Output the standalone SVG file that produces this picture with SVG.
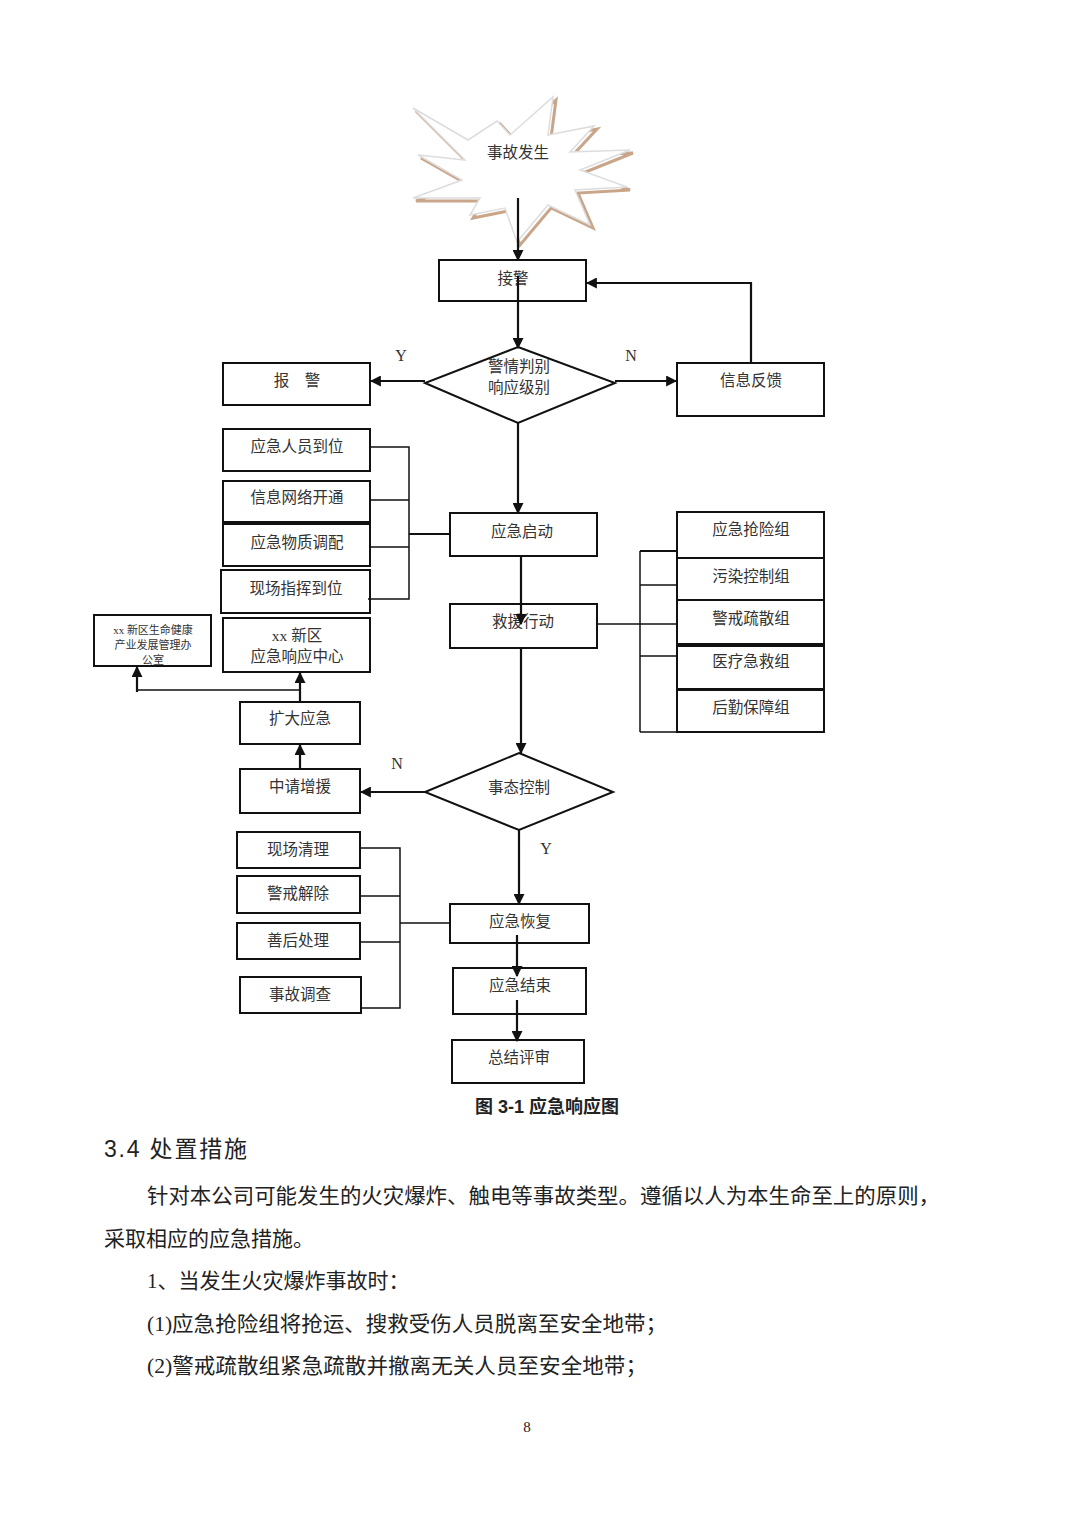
<svg xmlns="http://www.w3.org/2000/svg" width="1080" height="1526" viewBox="0 0 1080 1526">
<defs>
<style>
.box{fill:#fff;stroke:#111;stroke-width:2}
.ln{fill:none;stroke:#111;stroke-width:1.5}
.ar{fill:none;stroke:#111;stroke-width:2.2}
.t{font-family:"Liberation Serif","Noto Sans CJK SC",serif;font-size:15.5px;fill:#333;text-anchor:middle}
.yn{font-family:"Liberation Serif",serif;font-size:16px;fill:#333;text-anchor:middle}
.body{font-family:"Liberation Serif","Noto Sans CJK SC",serif;font-size:21px;fill:#222}
</style>
<marker id="ah" viewBox="0 0 10 10" refX="9" refY="5" markerWidth="5" markerHeight="5" orient="auto" markerUnits="strokeWidth">
<path d="M0,0 L10,5 L0,10 z" fill="#111"/>
</marker>
<clipPath id="clipxx"><rect x="95" y="616" width="115" height="49"/></clipPath>
</defs>
<rect width="1080" height="1526" fill="#fff"/>

<g id="star">
<polygon points="413,108 468,140 497,121 510,135 553,97 548,135 594,126 570,152 630,150 580,170 627,187 575,190 590,225 548,205 517,242 505,208 470,215 480,198 413,198 462,180 418,155 465,160" fill="none" stroke="#c9a68a" stroke-width="3" transform="translate(3,3)"/>
<polygon points="413,108 468,140 497,121 510,135 553,97 548,135 594,126 570,152 630,150 580,170 627,187 575,190 590,225 548,205 517,242 505,208 470,215 480,198 413,198 462,180 418,155 465,160" fill="#fff" stroke="#ddd" stroke-width="1.5"/>
<text class="t" x="518" y="158">事故发生</text>
</g>

<g id="n-jiejing"><rect class="box" x="439" y="260" width="147" height="41"/><text class="t" x="513" y="284">接警</text></g>
<g id="n-judge"><polygon class="box" points="518,347 615,383 518,423 425,383"/><text class="t" x="519" y="372">警情判别</text><text class="t" x="519" y="393">响应级别</text></g>
<text class="yn" x="401" y="361">Y</text>
<text class="yn" x="631" y="361">N</text>
<g id="n-baojing"><rect class="box" x="223" y="363" width="147" height="42"/><text class="t" x="297" y="386">报　警</text></g>
<g id="n-feedback"><rect class="box" x="677" y="363" width="147" height="53"/><text class="t" x="751" y="386">信息反馈</text></g>

<g id="n-a1"><rect class="box" x="223" y="429" width="147" height="42"/><text class="t" x="297" y="452">应急人员到位</text></g>
<g id="n-a2"><rect class="box" x="223" y="481" width="147" height="41"/><text class="t" x="297" y="503">信息网络开通</text></g>
<g id="n-a3"><rect class="box" x="223" y="524" width="147" height="42"/><text class="t" x="297" y="548">应急物质调配</text></g>
<g id="n-a4"><rect class="box" x="221" y="570" width="149" height="43"/><text class="t" x="296" y="594">现场指挥到位</text></g>

<g id="n-start"><rect class="box" x="450" y="513" width="147" height="43"/><text class="t" x="522" y="537">应急启动</text></g>
<g id="n-rescue"><rect class="box" x="450" y="604" width="147" height="44"/><text class="t" x="523" y="627">救援行动</text></g>

<g id="n-g1"><rect class="box" x="677" y="512" width="147" height="46"/><text class="t" x="751" y="535">应急抢险组</text></g>
<g id="n-g2"><rect class="box" x="677" y="558" width="147" height="42"/><text class="t" x="751" y="582">污染控制组</text></g>
<g id="n-g3"><rect class="box" x="677" y="600" width="147" height="44"/><text class="t" x="751" y="624">警戒疏散组</text></g>
<g id="n-g4"><rect class="box" x="677" y="646" width="147" height="43"/><text class="t" x="751" y="667">医疗急救组</text></g>
<g id="n-g5"><rect class="box" x="677" y="690" width="147" height="42"/><text class="t" x="751" y="713">后勤保障组</text></g>

<g id="n-office"><rect class="box" x="94" y="615" width="117" height="51"/>
<g clip-path="url(#clipxx)"><text class="t" x="153" y="634" style="font-size:11px">xx 新区生命健康</text><text class="t" x="153" y="649" style="font-size:11px">产业发展管理办</text><text class="t" x="153" y="664" style="font-size:11px">公室</text></g></g>
<g id="n-center"><rect class="box" x="223" y="618" width="147" height="54"/><text class="t" x="297" y="641">xx 新区</text><text class="t" x="297" y="662">应急响应中心</text></g>
<g id="n-expand"><rect class="box" x="240" y="702" width="120" height="42"/><text class="t" x="300" y="724">扩大应急</text></g>
<g id="n-request"><rect class="box" x="240" y="769" width="120" height="44"/><text class="t" x="300" y="792">中请增援</text></g>

<g id="n-control"><polygon class="box" points="519,753 613,792 519,830 425,792"/><text class="t" x="519" y="793">事态控制</text></g>
<text class="yn" x="397" y="769">N</text>
<text class="yn" x="546" y="854">Y</text>

<g id="n-b1"><rect class="box" x="237" y="832" width="123" height="36"/><text class="t" x="298" y="855">现场清理</text></g>
<g id="n-b2"><rect class="box" x="237" y="876" width="123" height="37"/><text class="t" x="298" y="899">警戒解除</text></g>
<g id="n-b3"><rect class="box" x="237" y="923" width="123" height="36"/><text class="t" x="298" y="946">善后处理</text></g>
<g id="n-b4"><rect class="box" x="240" y="977" width="121" height="36"/><text class="t" x="300" y="1000">事故调查</text></g>

<g id="n-recover"><rect class="box" x="450" y="904" width="139" height="39"/><text class="t" x="520" y="927">应急恢复</text></g>
<g id="n-end"><rect class="box" x="453" y="968" width="133" height="46"/><text class="t" x="520" y="991">应急结束</text></g>
<g id="n-review"><rect class="box" x="452" y="1040" width="132" height="43"/><text class="t" x="519" y="1063">总结评审</text></g>

<g id="connectors">
<line class="ar" x1="518" y1="198" x2="518" y2="260" marker-end="url(#ah)"/>
<line class="ar" x1="518" y1="276" x2="518" y2="348" marker-end="url(#ah)"/>
<line class="ar" x1="425" y1="381" x2="371" y2="381" marker-end="url(#ah)"/>
<line class="ar" x1="615" y1="381" x2="676" y2="381" marker-end="url(#ah)"/>
<polyline class="ar" points="751,363 751,283 587,283" marker-end="url(#ah)"/>
<line class="ar" x1="518" y1="423" x2="518" y2="513" marker-end="url(#ah)"/>
<polyline class="ln" points="370,447 409,447 409,599 368,599"/>
<line class="ln" x1="370" y1="500" x2="409" y2="500"/>
<line class="ln" x1="370" y1="547" x2="409" y2="547"/>
<line class="ar" x1="409" y1="534" x2="450" y2="534"/>
<line class="ar" x1="521" y1="556" x2="521" y2="624" marker-end="url(#ah)"/>
<line class="ar" x1="521" y1="648" x2="521" y2="753" marker-end="url(#ah)"/>
<line class="ln" x1="597" y1="624" x2="677" y2="624"/>
<line class="ln" x1="640" y1="551" x2="640" y2="732"/>
<line class="ar" x1="640" y1="551" x2="677" y2="551"/>
<line class="ln" x1="640" y1="585" x2="677" y2="585"/>
<line class="ln" x1="640" y1="656" x2="677" y2="656"/>
<line class="ln" x1="640" y1="732" x2="677" y2="732"/>
<line class="ar" x1="300" y1="702" x2="300" y2="673" marker-end="url(#ah)"/>
<polyline class="ln" points="300,690 137,690"/>
<line class="ar" x1="137" y1="692" x2="137" y2="667" marker-end="url(#ah)"/>
<line class="ar" x1="300" y1="769" x2="300" y2="745" marker-end="url(#ah)"/>
<line class="ar" x1="425" y1="792" x2="361" y2="792" marker-end="url(#ah)"/>
<line class="ar" x1="519" y1="830" x2="519" y2="904" marker-end="url(#ah)"/>
<polyline class="ln" points="360,848 400,848 400,1008 360,1008"/>
<line class="ln" x1="360" y1="896" x2="400" y2="896"/>
<line class="ln" x1="360" y1="942" x2="400" y2="942"/>
<line class="ln" x1="400" y1="923" x2="450" y2="923"/>
<line class="ar" x1="517" y1="935" x2="517" y2="976" marker-end="url(#ah)"/>
<line class="ar" x1="517" y1="1000" x2="517" y2="1041" marker-end="url(#ah)"/>
</g>

<text x="547" y="1113" text-anchor="middle" style="font-family:'Liberation Sans','Noto Sans CJK SC',sans-serif;font-size:18px;font-weight:bold;fill:#222">图 3-1  应急响应图</text>
<text x="104" y="1157" style="font-family:'Liberation Sans','Noto Sans CJK SC',sans-serif;font-size:23px;fill:#222" textLength="143" lengthAdjust="spacing">3.4  处置措施</text>
<text class="body" x="147" y="1203" textLength="793" lengthAdjust="spacingAndGlyphs">针对本公司可能发生的火灾爆炸、触电等事故类型。遵循以人为本生命至上的原则，</text>
<text class="body" x="104" y="1246">采取相应的应急措施。</text>
<text class="body" x="147" y="1288">1、当发生火灾爆炸事故时：</text>
<text class="body" x="147" y="1331" textLength="520" lengthAdjust="spacingAndGlyphs">(1)应急抢险组将抢运、搜救受伤人员脱离至安全地带；</text>
<text class="body" x="147" y="1373" textLength="500" lengthAdjust="spacingAndGlyphs">(2)警戒疏散组紧急疏散并撤离无关人员至安全地带；</text>
<text x="527" y="1432" text-anchor="middle" style="font-family:'Liberation Serif',serif;font-size:15px;fill:#222">8</text>
</svg>
